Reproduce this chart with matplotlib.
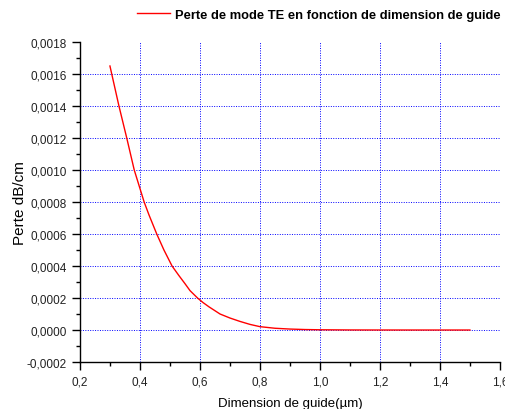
#!/usr/bin/env python

import numpy as np
import matplotlib
matplotlib.use('Agg')
import matplotlib.pyplot as plt
from matplotlib.ticker import FuncFormatter, MultipleLocator

plt.rcParams['font.family'] = ['Liberation Sans', 'DejaVu Sans']

# ----------------------------------------------------------------------
# Data
# ----------------------------------------------------------------------

dimension = [0.300, 0.330, 0.356, 0.381, 0.414, 0.430, 0.456, 0.480,
             0.507, 0.530, 0.550, 0.567, 0.592, 0.610, 0.630, 0.667,
             0.700, 0.733, 0.767, 0.800, 0.850, 0.900, 0.950, 1.000,
             1.100, 1.200, 1.300, 1.400, 1.500]
perte = [0.00165, 0.00140, 0.00120, 0.00100, 0.00080, 0.00072, 0.00060,
         0.00050, 0.00040, 0.00034, 0.00029, 0.000246, 0.00020,
         0.000172, 0.000145, 0.00010, 0.000075, 0.000054, 0.000035,
         0.000021, 0.000011, 0.000006, 0.000003, 0.0000015, 0.0000004,
         0.0000001, 0.0, 0.0, 0.0]

legend_label = 'Perte de mode TE en fonction de dimension de guide'
xticks = [0.2, 0.4, 0.6, 0.8, 1.0, 1.2, 1.4, 1.6]
yticks = [-0.0002, 0.0, 0.0002, 0.0004, 0.0006, 0.0008, 0.0010,
          0.0012, 0.0014, 0.0016, 0.0018]

# ----------------------------------------------------------------------
# Plot
# ----------------------------------------------------------------------

fig = plt.figure(figsize=(5.06, 4.10), dpi=100)
ax = fig.add_axes([0.158, 0.1146, 0.830, 0.7805])

ax.plot(dimension, perte, c='red', lw=1.0, label=legend_label, zorder=3)

ax.set_xlim(0.2, 1.6)
ax.set_ylim(-0.0002, 0.0018)
ax.set_xticks(xticks)
ax.set_yticks(yticks)
ax.xaxis.set_minor_locator(MultipleLocator(0.1))
ax.yaxis.set_minor_locator(MultipleLocator(0.0001))

ax.xaxis.set_major_formatter(FuncFormatter(lambda v, p: ('%.1f' % v).replace('.', ',')))
ax.yaxis.set_major_formatter(FuncFormatter(lambda v, p: ('%.4f' % v).replace('.', ',')))

ax.tick_params(which='major', direction='out', length=6, width=1.0,
               labelsize=8.5, colors='black', labelcolor='#222222')
ax.tick_params(which='minor', direction='out', length=3, width=1.0)

for s in ['top', 'right']:
    ax.spines[s].set_visible(False)
for s in ['left', 'bottom']:
    ax.spines[s].set_linewidth(1.0)

# dotted blue grid, not on the frame edges
for x in xticks[1:-1]:
    ax.axvline(x, color='#0000ff', lw=0.7, ls=(0, (1, 1.5)), zorder=1)
for y in yticks[1:-1]:
    ax.axhline(y, color='#0000ff', lw=0.7, ls=(0, (1, 1.5)), zorder=1)

ax.set_xlabel('Dimension de guide(µm)', fontsize=9.5, labelpad=7)
ax.set_ylabel('Perte dB/cm', fontsize=11, labelpad=0)

ax.legend(loc='upper right', bbox_to_anchor=(1.012, 1.005),
          bbox_transform=fig.transFigure, frameon=False,
          handlelength=2.5, handletextpad=0.4,
          prop={'weight': 'bold', 'size': 9.3})

plt.savefig('out.png', dpi=100)
plt.close()
